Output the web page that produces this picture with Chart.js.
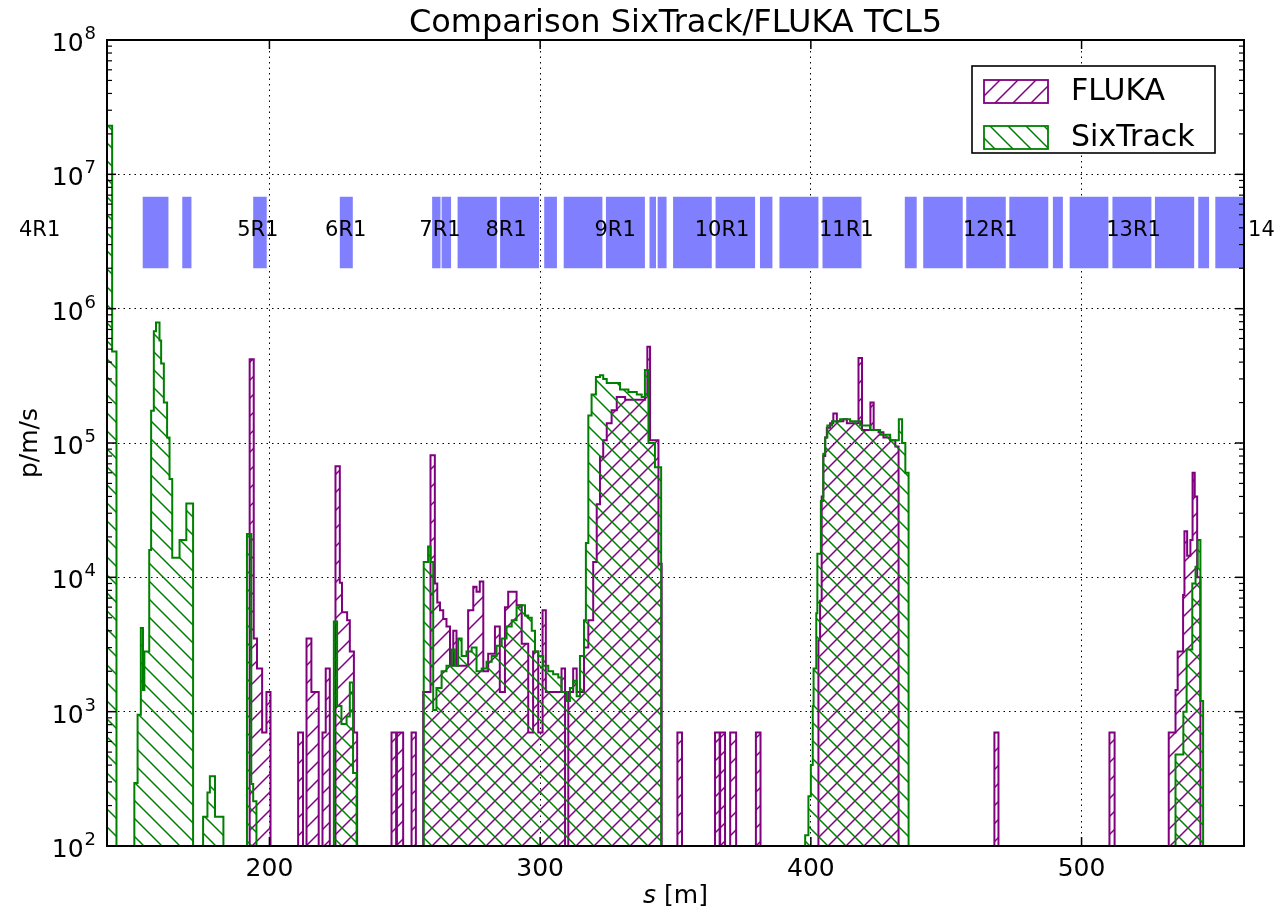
<!DOCTYPE html>
<html>
<head>
<meta charset="utf-8">
<script src="https://cdn.jsdelivr.net/npm/chart.js@4.4.0/dist/chart.umd.min.js"></script>
<style>
html,body{margin:0;padding:0;background:#fff;}
#wrap{width:1276px;height:916px;}
</style>
</head>
<body>
<div id="wrap"><canvas id="chart" width="1276" height="916"></canvas></div>
<script>
// step histograms: s position where a step starts, and its value (0 = empty)
var flukaS = [140, 192.7, 194.2, 195.4, 197.3, 198.9, 200.4, 210.6, 212.4, 213.7, 215.5, 218.2, 219.6, 220.8, 222.3,
  224.4, 226.0, 226.8, 228.7, 229.7, 231.2, 232.4, 245.1, 246.8, 247.1, 249.4, 252.5, 254.1,
  256.8, 259.5, 261.1, 262.0, 263.0, 264.2, 265.4, 266.7, 267.9, 269.1, 273.4, 275.3, 276.5, 277.7, 279.0, 280.8,
  283.3, 285.1, 287.0, 288.2, 291.3, 293.2, 295.6, 297.4, 299.3, 300.9, 302.1, 307.9, 309.2, 310.4, 312.2, 313.5,
  316.2, 317.8, 319.6, 320.9, 322.1, 323.3, 324.6, 326.4, 328.3, 331.4, 338.7, 339.6, 340.6, 343.7, 344.9,
  350.7, 352.4, 364.6, 366.3, 366.5, 368.3, 370.2, 372.4, 379.7, 381.4,
  402.8, 403.4, 404.0, 404.6, 405.3, 405.9, 407.1, 408.3, 409.6, 412.0, 413.3, 417.6, 418.9, 422.0, 423.2, 425.0,
  426.8, 429.3, 431.2, 432.4, 467.8, 469.3, 510.3, 512.2,
  532.2, 534.7, 535.5, 537.5, 538.0, 539.0, 540.2, 541.0, 541.8, 542.7, 543.9];
var flukaV = [0, 4.2e5, 3500, 2100, 700, 1400, 0, 700, 0, 3500, 1400, 0, 700, 2100, 0,
  6.7e4, 9100, 5500, 4800, 2800, 700, 0, 700, 0, 700, 0, 700, 0,
  1400, 8.1e4, 9000, 6500, 5700, 4900, 4300, 2200, 4000, 2200, 5700, 8500, 7800, 9300, 2000, 2700,
  4300, 1400, 6000, 7800, 6200, 3200, 700, 2800, 700, 5700, 1400, 2100, 0, 1400, 2100, 1400,
  3000, 4800, 1.3e4, 3.5e4, 7.9e4, 1.05e5, 1.4e5, 1.75e5, 2.2e5, 2.1e5, 2.3e5, 5.2e5, 1.05e5, 1.26e4, 0,
  700, 0, 700, 0, 700, 0, 700, 0, 700, 0,
  3400, 6700, 4e4, 8e4, 1.1e5, 1.3e5, 1.4e5, 1.66e5, 1.45e5, 1.5e5, 1.4e5, 4.3e5, 1.25e5, 2.0e5, 1.25e5, 1.2e5,
  1.1e5, 1.05e5, 9.4e4, 0, 700, 0, 700, 0,
  700, 1450, 2800, 7400, 2.2e4, 1.45e4, 1.9e4, 6e4, 4e4, 1e4, 0];

var sixS = [140.0, 141.9, 143.5, 150.1, 151.3, 152.5, 153.3, 153.8, 155.6, 156.3, 157.3, 158.1, 159.4, 160.0, 161.0,
  162.2, 163.1, 164.1, 166.8, 169.3, 171.8, 175.5, 177.1, 178.0, 179.9, 183.0, 191.7, 193.3, 194.0, 195.2,
  223.8, 225.0, 226.6, 228.5, 229.7, 230.9, 232.2,
  257.0, 258.6, 259.5, 260.5, 261.7, 263.6, 265.4, 267.3, 268.5, 269.7, 271.0, 272.8, 274.7, 276.5, 278.4,
  280.2, 282.1, 283.9, 285.8, 287.6, 289.5, 291.3, 292.5, 294.4, 295.6, 296.9, 298.1, 299.3, 301.1, 303.0,
  304.8, 306.7, 307.9, 309.8, 311.0, 312.2, 313.5, 314.7, 316.2, 316.9, 317.8, 319.0, 320.6, 322.1, 323.3,
  324.6, 329.5, 332.6, 335.7, 337.5, 338.7, 340.0, 342.4, 344.7,
  397.9, 399.1, 400.0, 400.7, 401.0, 402.0, 402.4, 403.7, 404.6, 405.3, 406.1, 407.8, 410.8, 414.5, 418.2,
  421.9, 425.6, 429.3, 432.5, 433.7, 434.9, 436.1,
  534.7, 537.6, 538.8, 540.9, 542.1, 542.9, 543.9, 544.9];
var sixV = [2.3e7, 4.8e5, 0, 295, 950, 4200, 1450, 2800, 1.6e4, 1.74e5, 6.8e5, 7.9e5, 5.8e5, 3.9e5, 2.0e5,
  1.1e5, 5.4e4, 1.4e4, 1.9e4, 3.55e4, 0, 165, 250, 330, 165, 0, 2.1e4, 290, 215, 0,
  4700, 1100, 810, 920, 1650, 350, 0,
  1.3e4, 1.7e4, 1.3e4, 1030, 1500, 2000, 2200, 2900, 2200, 3500, 2600, 2800, 3000, 2000, 2100,
  2350, 2600, 3100, 3500, 4300, 4800, 6000, 6200, 5200, 5000, 4000, 2800, 2600, 2200, 2000,
  1900, 1800, 1400, 1200, 1500, 1700, 1300, 2600, 4800, 1.8e4, 1.6e5, 2.3e5, 3.1e5, 3.2e5, 3.0e5,
  2.8e5, 2.5e5, 2.4e5, 2.3e5, 2.2e5, 3.5e5, 1.0e5, 6.6e4, 0,
  120, 235, 400, 1100, 2100, 5400, 1.5e4, 3.7e4, 8.3e4, 1.1e5, 1.35e5, 1.45e5, 1.5e5, 1.45e5, 1.35e5,
  1.25e5, 1.15e5, 1.05e5, 1.5e5, 1.0e5, 6e4, 0,
  480, 1000, 2900, 9000, 1.2e4, 1.9e4, 1200, 0];

// magnet layout
var magnetStart = [153.1, 167.8, 194.0, 226.0, 260.1, 263.6, 269.5, 285.2, 301.5, 308.7, 324.3, 340.4, 343.4, 349.1,
  364.8, 381.2, 388.4, 404.3, 434.7, 441.5, 457.4, 473.3, 489.4, 495.6, 511.4, 527.1, 543.1, 549.4];
var magnetEnd = [162.7, 171.2, 199.0, 230.8, 263.2, 267.1, 284.0, 299.6, 306.2, 323.0, 338.7, 342.8, 346.7, 363.4,
  379.4, 385.8, 402.8, 418.7, 439.1, 456.1, 472.0, 487.7, 493.1, 509.9, 525.8, 541.6, 547.1, 561.1];
var sectionNames = ['4R1', '5R1', '6R1', '7R1', '8R1', '9R1', '10R1', '11R1', '12R1', '13R1', '14R1'];
var sectionPos = [115.1, 195.7, 228.2, 263.0, 287.4, 327.7, 367.2, 413.1, 466.3, 519.2, 571.6];

var xTicks = [200, 300, 400, 500];
var yTicks = [1e2, 1e3, 1e4, 1e5, 1e6, 1e7, 1e8];

var MAG_TOP = 6.8e6, MAG_BOT = 2e6, LABEL_Y = 3.8e6, FLOOR = 1;
var PURPLE = '#800080', GREEN = '#008000';

Chart.defaults.font.family = '"DejaVu Sans"';
Chart.defaults.color = '#000';

var canvas = document.getElementById('chart');
var ctx0 = canvas.getContext('2d');

function hatch(color, dir) {
  var P = 18;
  var c = document.createElement('canvas');
  c.width = P; c.height = P;
  var g = c.getContext('2d');
  g.strokeStyle = color;
  g.lineWidth = 1.5;
  g.beginPath();
  for (var k = -1; k <= 1; k++) {
    if (dir > 0) {
      g.moveTo(k * P - 1, P + 1); g.lineTo(k * P + P + 1, -1);
    } else {
      g.moveTo(k * P - 1, -1); g.lineTo(k * P + P + 1, P + 1);
    }
  }
  g.stroke();
  return ctx0.createPattern(c, 'repeat');
}
var flukaHatch = hatch(PURPLE, 1);
var sixHatch = hatch(GREEN, -1);

function steps(xs, vs) {
  var pts = [];
  for (var i = 0; i < xs.length; i++) {
    pts.push({x: xs[i], y: vs[i] > 0 ? vs[i] : FLOOR});
  }
  return pts;
}
var magPts = [];
for (var i = 0; i < magnetStart.length; i++) {
  magPts.push({x: magnetStart[i], y: MAG_TOP});
  magPts.push({x: magnetEnd[i], y: MAG_BOT});
}

function line(ctx, x1, y1, x2, y2) {
  ctx.beginPath(); ctx.moveTo(x1, y1); ctx.lineTo(x2, y2); ctx.stroke();
}

var decor = {
  id: 'decor',
  afterDraw: function(chart) {
    var ctx = chart.ctx, a = chart.chartArea, xs = chart.scales.x, ys = chart.scales.y;
    ctx.save();
    ctx.strokeStyle = '#000';
    ctx.lineWidth = 1.5;
    xTicks.forEach(function(v) {
      var px = xs.getPixelForValue(v);
      line(ctx, px, a.bottom, px, a.bottom - 9);
      line(ctx, px, a.top, px, a.top + 9);
    });
    yTicks.forEach(function(v) {
      var py = ys.getPixelForValue(v);
      line(ctx, a.left, py, a.left + 9, py);
      line(ctx, a.right, py, a.right - 9, py);
    });
    ctx.lineWidth = 1.2;
    for (var e = 2; e < 8; e++) {
      for (var m = 2; m < 10; m++) {
        var py = ys.getPixelForValue(m * Math.pow(10, e));
        line(ctx, a.left, py, a.left + 5, py);
        line(ctx, a.right, py, a.right - 5, py);
      }
    }
    ctx.lineWidth = 2;
    ctx.strokeRect(a.left, a.top, a.right - a.left, a.bottom - a.top);

    // y tick labels: 10 with raised exponent
    ctx.fillStyle = '#000';
    ctx.textBaseline = 'alphabetic';
    ctx.textAlign = 'right';
    yTicks.forEach(function(v) {
      var py = ys.getPixelForValue(v);
      var ex = String(Math.round(Math.log10(v)));
      ctx.font = '18px "DejaVu Sans"';
      var we = ctx.measureText(ex).width;
      ctx.fillText(ex, a.left - 11, py - 1);
      ctx.font = '25px "DejaVu Sans"';
      ctx.fillText('10', a.left - 12 - we, py + 11);
    });

    // section names
    ctx.font = '21px "DejaVu Sans"';
    ctx.textAlign = 'center';
    ctx.textBaseline = 'middle';
    var ly = ys.getPixelForValue(LABEL_Y);
    sectionNames.forEach(function(n, i) {
      ctx.fillText(n, xs.getPixelForValue(sectionPos[i]), ly);
    });

    // title
    ctx.font = '32px "DejaVu Sans"';
    ctx.textBaseline = 'alphabetic';
    ctx.fillText('Comparison SixTrack/FLUKA TCL5', (a.left + a.right) / 2, 32);

    // x title: italic s
    var rest = ' [m]';
    ctx.font = 'italic 25px "DejaVu Sans"';
    var w1 = ctx.measureText('s').width;
    ctx.font = '25px "DejaVu Sans"';
    var w2 = ctx.measureText(rest).width;
    var x0 = (a.left + a.right) / 2 - (w1 + w2) / 2;
    ctx.textAlign = 'left';
    ctx.font = 'italic 25px "DejaVu Sans"';
    ctx.fillText('s', x0, 903);
    ctx.font = '25px "DejaVu Sans"';
    ctx.fillText(rest, x0 + w1, 903);

    // y title
    ctx.save();
    ctx.translate(30, (a.top + a.bottom) / 2);
    ctx.rotate(-Math.PI / 2);
    ctx.textAlign = 'center';
    ctx.textBaseline = 'middle';
    ctx.fillText('p/m/s', 0, 0);
    ctx.restore();

    // legend
    ctx.lineWidth = 1.6;
    ctx.strokeStyle = '#000';
    ctx.fillStyle = '#fff';
    ctx.fillRect(972, 66, 243, 87);
    ctx.strokeRect(972, 66, 243, 87);
    var items = [[flukaHatch, PURPLE, 80, 'FLUKA'], [sixHatch, GREEN, 126, 'SixTrack']];
    items.forEach(function(it) {
      ctx.fillStyle = it[0];
      ctx.fillRect(984, it[2], 64, 23);
      ctx.strokeStyle = it[1];
      ctx.lineWidth = 1.8;
      ctx.strokeRect(984, it[2], 64, 23);
      ctx.fillStyle = '#000';
      ctx.font = '30px "DejaVu Sans"';
      ctx.textAlign = 'left';
      ctx.textBaseline = 'middle';
      ctx.fillText(it[3], 1071, it[2] + 12);
    });
    ctx.restore();
  }
};

new Chart(canvas, {
  type: 'line',
  data: {
    datasets: [
      {
        label: 'SixTrack',
        data: steps(sixS, sixV),
        stepped: true,
        borderColor: GREEN,
        borderWidth: 2,
        backgroundColor: sixHatch,
        fill: 'start',
        pointRadius: 0
      },
      {
        label: 'FLUKA',
        data: steps(flukaS, flukaV),
        stepped: true,
        borderColor: PURPLE,
        borderWidth: 2,
        backgroundColor: flukaHatch,
        fill: 'start',
        pointRadius: 0
      },
      {
        label: 'magnets',
        data: magPts,
        stepped: true,
        borderWidth: 0,
        borderColor: 'rgba(0,0,0,0)',
        backgroundColor: '#8080ff',
        fill: {value: MAG_BOT},
        pointRadius: 0
      }
    ]
  },
  options: {
    responsive: false,
    animation: false,
    devicePixelRatio: 1,
    layout: {padding: {left: 0, top: 40, right: 32, bottom: 0}},
    plugins: {legend: {display: false}, tooltip: {enabled: false}, title: {display: false}},
    scales: {
      x: {
        type: 'linear',
        min: 140,
        max: 560,
        afterBuildTicks: function(s) { s.ticks = xTicks.map(function(v) { return {value: v}; }); },
        afterFit: function(s) { s.height = 70; },
        ticks: {font: {size: 25}, maxRotation: 0, autoSkip: false, padding: 8},
        grid: {color: '#000', lineWidth: 1, drawTicks: false},
        border: {display: false, dash: [1.5, 4]}
      },
      y: {
        type: 'logarithmic',
        min: 1e2,
        max: 1e8,
        afterBuildTicks: function(s) { s.ticks = yTicks.map(function(v) { return {value: v}; }); },
        afterFit: function(s) { s.width = 107; },
        ticks: {display: false},
        grid: {color: '#000', lineWidth: 1, drawTicks: false},
        border: {display: false, dash: [1.5, 4]}
      }
    }
  },
  plugins: [decor]
});
</script>
</body>
</html>
